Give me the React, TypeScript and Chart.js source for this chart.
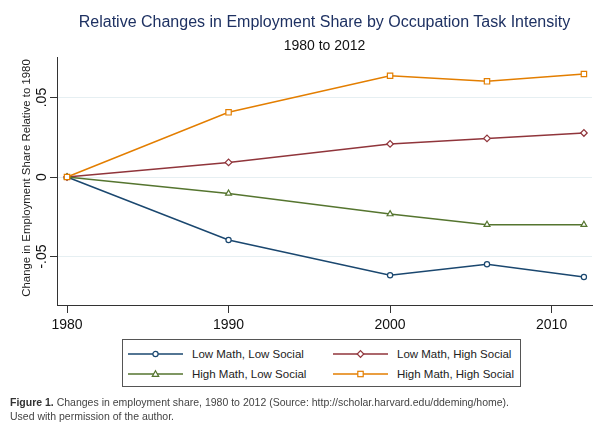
import React, { useEffect, useRef } from "react";
import { Chart, registerables } from "chart.js";

Chart.register(...registerables);

const years = [1980, 1990, 2000, 2006, 2012];
const lowMathLowSocial = [0, -0.0396, -0.0618, -0.0549, -0.0629];
const lowMathHighSocial = [0, 0.0092, 0.0208, 0.0243, 0.0277];
const highMathLowSocial = [0, -0.0103, -0.0233, -0.03, -0.03];
const highMathHighSocial = [0, 0.0407, 0.0637, 0.0602, 0.0648];

const seriesNames = [
  "Low Math, Low Social",
  "Low Math, High Social",
  "High Math, Low Social",
  "High Math, High Social",
];
const seriesColors = ["#1a476f", "#90353b", "#55752f", "#e37e00"];
const seriesMarkers = ["circle", "rectRot", "triangle", "rect"];

const xTicks = [1980, 1990, 2000, 2010];
const yTicks = [-0.05, 0, 0.05];
const yTickLabels = ["-.05", "0", ".05"];

const titleText = "Relative Changes in Employment Share by Occupation Task Intensity";
const subtitleText = "1980 to 2012";
const yAxisTitle = "Change in Employment Share Relative to 1980";
const captionBold = "Figure 1.";
const captionRest =
  " Changes in employment share, 1980 to 2012 (Source: http://scholar.harvard.edu/ddeming/home).";
const captionLine2 = "Used with permission of the author.";

const FONT = "'Liberation Sans', Arial, Helvetica, sans-serif";

function Marker({ kind, color }: { kind: string; color: string }) {
  const cx = 27.5;
  const cy = 5;
  let shape: any = null;
  if (kind === "circle") shape = <circle cx={cx} cy={cy} r={2.6} fill="#fff" stroke={color} strokeWidth={1.2} />;
  if (kind === "rectRot")
    shape = (
      <polygon
        points={`${cx},${cy - 3.3} ${cx + 3.3},${cy} ${cx},${cy + 3.3} ${cx - 3.3},${cy}`}
        fill="#fff"
        stroke={color}
        strokeWidth={1.2}
      />
    );
  if (kind === "triangle")
    shape = (
      <polygon
        points={`${cx},${cy - 3.2} ${cx + 3.2},${cy + 2.4} ${cx - 3.2},${cy + 2.4}`}
        fill="#fff"
        stroke={color}
        strokeWidth={1.2}
      />
    );
  if (kind === "rect") shape = <rect x={cx - 2.7} y={cy - 2.7} width={5.4} height={5.4} fill="#fff" stroke={color} strokeWidth={1.2} />;
  return (
    <svg width={55} height={10} style={{ display: "block" }}>
      <line x1={0} y1={cy} x2={55} y2={cy} stroke={color} strokeWidth={1.5} />
      {shape}
    </svg>
  );
}

export default function App() {
  const canvasRef = useRef<HTMLCanvasElement | null>(null);

  useEffect(() => {
    const canvas = canvasRef.current;
    if (!canvas) return;
    const allSeries = [lowMathLowSocial, lowMathHighSocial, highMathLowSocial, highMathHighSocial];
    const radii = [2.6, 3.3, 3.4, 3.8];
    const orders = [4, 3, 2, 1];

    const axisLabelPlugin = {
      id: "axisLabels",
      afterDraw(chart: any) {
        const ctx = chart.ctx;
        const y = chart.scales.y;
        const area = chart.chartArea;
        ctx.save();
        ctx.fillStyle = "#111";
        ctx.font = `14px ${FONT}`;
        ctx.textAlign = "center";
        ctx.textBaseline = "alphabetic";
        yTicks.forEach((v, i) => {
          const py = y.getPixelForValue(v);
          ctx.save();
          ctx.translate(45.5, py);
          ctx.rotate(-Math.PI / 2);
          ctx.fillText(yTickLabels[i], 0, 0);
          ctx.restore();
        });
        ctx.font = `11.4px ${FONT}`;
        ctx.fillStyle = "#222";
        ctx.save();
        ctx.translate(30, (area.top + area.bottom) / 2 - 3);
        ctx.rotate(-Math.PI / 2);
        ctx.fillText(yAxisTitle, 0, 0);
        ctx.restore();
        ctx.restore();
      },
    };

    const chart = new Chart(canvas, {
      type: "line",
      data: {
        datasets: allSeries.map((arr, i) => ({
          label: seriesNames[i],
          data: years.map((yr, j) => ({ x: yr, y: arr[j] })),
          borderColor: seriesColors[i],
          backgroundColor: seriesColors[i],
          borderWidth: 1.5,
          pointStyle: seriesMarkers[i] as any,
          pointRadius: radii[i],
          pointBorderWidth: 1.2,
          pointBorderColor: seriesColors[i],
          pointBackgroundColor: "#ffffff",
          tension: 0,
          fill: false,
          order: orders[i],
        })),
      },
      options: {
        animation: false,
        responsive: false,
        maintainAspectRatio: false,
        layout: { padding: { top: 57, right: 8, bottom: 0, left: 0 } },
        plugins: {
          legend: { display: false },
          tooltip: { enabled: false },
          title: { display: false },
        },
        scales: {
          x: {
            type: "linear",
            min: 1979.38,
            max: 2012.5,
            afterBuildTicks: (s: any) => {
              s.ticks = xTicks.map((v) => ({ value: v }));
            },
            afterFit: (s: any) => {
              s.height = 121;
            },
            grid: { drawOnChartArea: false, drawTicks: true, tickLength: 8, tickColor: "#333" },
            border: { display: true, color: "#333", width: 1 },
            ticks: {
              font: { family: FONT, size: 14 },
              color: "#111",
              padding: 4,
              maxRotation: 0,
              autoSkip: false,
              callback: (v: any) => String(v),
            },
          },
          y: {
            type: "linear",
            min: -0.0805,
            max: 0.0755,
            afterBuildTicks: (s: any) => {
              s.ticks = yTicks.map((v) => ({ value: v }));
            },
            afterFit: (s: any) => {
              s.width = 57;
            },
            grid: { color: "#e6eff2", lineWidth: 1, drawTicks: true, tickLength: 7, tickColor: "#333" },
            border: { display: true, color: "#333", width: 1 },
            ticks: { display: false },
          },
        },
      },
      plugins: [axisLabelPlugin],
    });
    return () => chart.destroy();
  }, []);

  const legendItem = (i: number, left: number, top: number) => (
    <div key={i} style={{ position: "absolute", left, top, height: 14, display: "flex", alignItems: "center" }}>
      <Marker kind={seriesMarkers[i]} color={seriesColors[i]} />
      <span style={{ marginLeft: 9, fontSize: 11.5, lineHeight: "14px", color: "#222", whiteSpace: "nowrap" }}>
        {seriesNames[i]}
      </span>
    </div>
  );

  return (
    <div style={{ position: "absolute", left: 0, top: 0, width: 600, height: 426, background: "#fff", fontFamily: FONT, overflow: "hidden" }}>
      <canvas ref={canvasRef} width={600} height={426} style={{ position: "absolute", left: 0, top: 0, width: 600, height: 426 }} />
      <div style={{ position: "absolute", left: 57, top: 12, width: 535, textAlign: "center", fontSize: 16, lineHeight: "20px", color: "#1e3162", whiteSpace: "nowrap" }}>
        {titleText}
      </div>
      <div style={{ position: "absolute", left: 57, top: 36, width: 535, textAlign: "center", fontSize: 14, lineHeight: "18px", color: "#111" }}>
        {subtitleText}
      </div>
      <div style={{ position: "absolute", left: 122, top: 339, width: 399, height: 48, boxSizing: "border-box", border: "1px solid #555", background: "#fff" }}>
        {legendItem(0, 5, 7)}
        {legendItem(1, 210, 7)}
        {legendItem(2, 5, 27)}
        {legendItem(3, 210, 27)}
      </div>
      <div style={{ position: "absolute", left: 10, top: 395, fontSize: 10.5, lineHeight: "14px", color: "#444", whiteSpace: "nowrap" }}>
        <b style={{ color: "#333" }}>{captionBold}</b>
        {captionRest}
        <br />
        {captionLine2}
      </div>
    </div>
  );
}
